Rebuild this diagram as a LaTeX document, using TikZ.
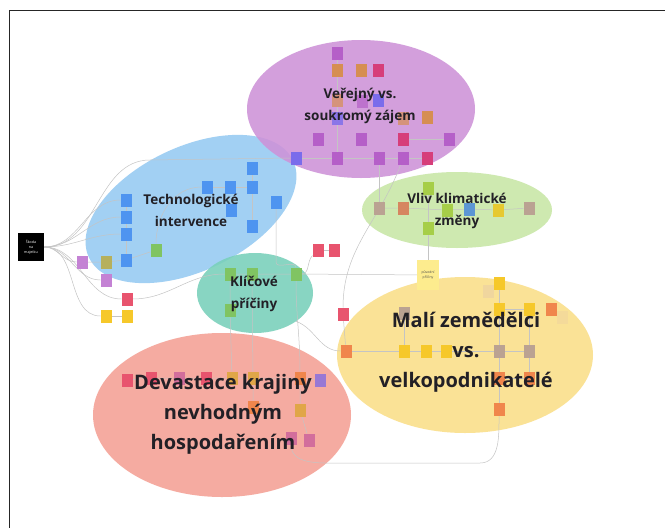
\documentclass[tikz,border=0pt]{standalone}
\usepackage{fontspec}
\setmainfont{Open Sans}
\usetikzlibrary{shapes.geometric}

% cluster fills
\definecolor{fillPub}{RGB}{206,146,216}
\definecolor{fillTech}{RGB}{150,202,242}
\definecolor{fillClim}{RGB}{200,230,166}
\definecolor{fillKey}{RGB}{120,208,186}
\definecolor{fillFarm}{RGB}{250,222,136}
\definecolor{fillDev}{RGB}{244,160,148}
% sticky-note colours
\definecolor{cPur}{RGB}{181,95,200}
\definecolor{cOrg}{RGB}{214,142,82}
\definecolor{cMag}{RGB}{214,62,122}
\definecolor{cVio}{RGB}{122,108,235}
\definecolor{cBlu}{RGB}{78,148,240}
\definecolor{cGrn}{RGB}{128,196,98}
\definecolor{cLime}{RGB}{166,206,72}
\definecolor{cOli}{RGB}{182,176,92}
\definecolor{cLav}{RGB}{196,130,212}
\definecolor{cRed}{RGB}{232,84,110}
\definecolor{cYel}{RGB}{246,200,42}
\definecolor{cTau}{RGB}{186,162,146}
\definecolor{cBrn}{RGB}{214,134,96}
\definecolor{cSky}{RGB}{92,150,212}
\definecolor{cOr2}{RGB}{240,134,76}
\definecolor{cTan}{RGB}{224,166,72}
\definecolor{cMau}{RGB}{210,110,156}
\definecolor{cPv}{RGB}{152,120,212}
\definecolor{cGhost}{RGB}{240,214,158}
\definecolor{cNote}{RGB}{253,236,142}
\definecolor{linkGray}{RGB}{196,196,196}
\definecolor{ink}{RGB}{34,32,38}

% drawing order: clusters, then connectors, then notes and titles
\pgfdeclarelayer{clusters}
\pgfdeclarelayer{links}
\pgfsetlayers{clusters,links,main}

\tikzset{
  cluster/.style={ellipse, draw=none, fill=#1, fill opacity=0.88, inner sep=0pt, outer sep=0pt},
  sq/.style={rectangle, fill=#1, draw=none, minimum width=11pt, minimum height=13pt, inner sep=0pt, outer sep=0pt},
  link/.style={draw=linkGray, line width=0.5pt},
  title/.style={font=\bfseries\fontsize{13.5}{22}\selectfont, text=ink, align=center, inner sep=0pt},
  bigtitle/.style={font=\bfseries\fontsize{20}{30}\selectfont, text=ink, align=center, inner sep=0pt}
}

\begin{document}
\begin{tikzpicture}[x=1pt,y=-1pt]
\useasboundingbox (0,0) rectangle (665,528);

\begin{pgfonlayer}{clusters}
\fill[white] (0,0) rectangle (665,528);
% page frame
\draw[line width=1.6pt, black!85] (9.5,528) -- (9.5,10.5) -- (665,10.5);
% cluster ellipses
\node[cluster=fillTech, minimum width=226pt, minimum height=124pt, rotate=25.5] (tech) at (191,209) {};
\node[cluster=fillPub, minimum width=228pt, minimum height=138pt] (pub) at (361,109) {};
\node[cluster=fillClim, minimum width=190pt, minimum height=76pt] (clim) at (457,210) {};
\node[cluster=fillKey, minimum width=116pt, minimum height=80pt] (key) at (255,293) {};
\node[cluster=fillFarm, minimum width=256pt, minimum height=156pt] (farm) at (465,355) {};
\node[cluster=fillDev, minimum width=258pt, minimum height=164pt] (dev) at (222,415) {};
\end{pgfonlayer}

% root card
\node[rectangle, fill=black, minimum width=26pt, minimum height=28pt, inner sep=0pt,
      text=white, align=center, font=\fontsize{3.6}{5.2}\selectfont] (root) at (31,247) {Škoda\\na\\majetku};

% sticky notes: public vs private interest
\node[sq=cPur] (pA1) at (337,53) {};
\node[sq=cOrg] (pB1) at (337,70) {};
\node[sq=cOrg] (pB2) at (361,70) {};
\node[sq=cMag] (pB3) at (378,70) {};
\node[sq=cOrg, opacity=0.7] (pC1) at (337,100) {};
\node[sq=cPur, opacity=0.7] (pC2) at (362,101) {};
\node[sq=cVio] (pC3) at (378,100) {};
\node[sq=cVio, opacity=0.8] (pD1) at (337,118) {};
\node[sq=cOrg, opacity=0.7] (pD2) at (403,118) {};
\node[sq=cOrg] (pD3) at (427,117) {};
\node[sq=cPur] (pE1) at (318,139) {};
\node[sq=cPur] (pE2) at (361,139) {};
\node[sq=cMag] (pE3) at (403,139) {};
\node[sq=cPur] (pE4) at (449,139) {};
\node[sq=cVio] (pF1) at (296,158) {};
\node[sq=cPur] (pF2) at (337,158) {};
\node[sq=cPur] (pF3) at (379,158) {};
\node[sq=cPur] (pF4) at (403,158) {};
\node[sq=cMag] (pF5) at (427,158) {};

% sticky notes: technological intervention
\node[sq=cBlu] (b1) at (252,168) {};
\node[sq=cBlu] (b2) at (207,187) {};
\node[sq=cBlu] (b3) at (230,187) {};
\node[sq=cBlu] (b4) at (252,187) {};
\node[sq=cBlu] (b9) at (276,202) {};
\node[sq=cBlu] (b10) at (231,210) {};
\node[sq=cBlu] (b11) at (252,226) {};
\node[sq=cBlu] (b5) at (126,200) {};
\node[sq=cBlu] (b6) at (126,217) {};
\node[sq=cBlu] (b7) at (126,234) {};
\node[sq=cBlu] (b8) at (126,260) {};
\node[sq=cGrn] (bG) at (156,250) {};

% loose notes near the root
\node[sq=cLav] (lP) at (82,262) {};
\node[sq=cOli] (lO) at (106,262) {};
\node[sq=cLav] (lP2) at (106,280) {};
\node[sq=cRed] (lR) at (127,299) {};
\node[sq=cYel] (lY1) at (106,316) {};
\node[sq=cYel] (lY2) at (127,316) {};

% sticky notes: key causes
\node[sq=cGrn] (kG1) at (230,274) {};
\node[sq=cGrn] (kG2) at (252,274) {};
\node[sq=cGrn] (kG3) at (296,274) {};
\node[sq=cGrn] (kG4) at (230,310) {};
\node[sq=cRed] (rR1) at (318,250) {};
\node[sq=cRed] (rR2) at (334,250) {};

% sticky notes: climate change
\node[sq=cLime] (gL0) at (428,188) {};
\node[sq=cTau] (gT1) at (379,208) {};
\node[sq=cBrn] (gB1) at (403,208) {};
\node[sq=cLime] (gL1) at (447,210) {};
\node[sq=cSky] (gS1) at (469,209) {};
\node[sq=cYel!80!cLime] (gY1) at (498,210) {};
\node[sq=cTau] (gT2) at (529,208) {};
\node[sq=cLime] (gL2) at (428,228) {};
\node[rectangle, fill=cNote, minimum width=22pt, minimum height=30pt, inner sep=0pt,
      text=black!70, align=center, font=\fontsize{3.4}{4.6}\selectfont] (orig) at (428,275) {původní\\příčiny};

% sticky notes: small farmers vs. large enterprises
\node[sq=cRed] (rY0) at (343,314) {};
\node[sq=cGhost] (yG1) at (488,291) {};
\node[sq=cYel] (yY1) at (499,283) {};
\node[sq=cTau] (yT1) at (404,313) {};
\node[sq=cYel] (yY2) at (499,309) {};
\node[sq=cYel] (yY3) at (529,309) {};
\node[sq=cGhost, opacity=0.6] (yG2) at (562,317) {};
\node[sq=cOr2] (yO1) at (551,309) {};
\node[sq=cOr2] (yO2) at (346,351) {};
\node[sq=cYel] (yY4) at (404,351) {};
\node[sq=cYel] (yY5) at (426,351) {};
\node[sq=cYel] (yY6) at (446,351) {};
\node[sq=cTau] (yT2) at (499,351) {};
\node[sq=cTau] (yT3) at (529,351) {};
\node[sq=cOr2] (yO3) at (499,378) {};
\node[sq=cOr2] (yO4) at (529,378) {};
\node[sq=cOr2] (yO5) at (499,409) {};

% sticky notes: land devastation
\node[sq=cRed] (dR1) at (127,380) {};
\node[sq=cRed] (dR2) at (151,378) {};
\node[sq=cMau] (dM1) at (179,378) {};
\node[sq=cRed] (dR3) at (206,378) {};
\node[sq=cTan] (dT1) at (232,378) {};
\node[sq=cTan] (dT2) at (253,378) {};
\node[sq=cOr2] (dO1) at (300,378) {};
\node[sq=cPv] (dV1) at (320,380) {};
\node[sq=cOr2] (dT3) at (253,407) {};
\node[sq=cTan] (dT4) at (300,410) {};
\node[sq=cMau] (dM2) at (291,438) {};
\node[sq=cMau] (dM3) at (309,440) {};

% connectors, kept beneath the notes
\begin{pgfonlayer}{links}
\foreach \t in {b5,b6,b7,lP,lP2,lR,lY1} \draw[link] (root.east) to[out=0,in=180] (\t.west);
\draw[link] (root.east) to[out=0,in=180] (150,160) -- (pF1.west);
\draw[link] (lP) -- (lO) -- (b8) -- (bG);
\draw[link] (lY1) -- (lY2);
\draw[link] (b5) -- (b6) -- (b7) -- (b8);
\draw[link] (b2) -- (b3) -- (b4);
\draw[link] (b1) -- (b4) -- (b11);
\draw[link] (b9) -- (276,262) to[out=-90,in=90] (kG3.north);
\draw[link] (bG) to[out=90,in=180] (b2.west);
\draw[link] (pA1) -- (pB1) -- (pC1) -- (pD1) -- (pF2);
\draw[link] (pF1) -- (pF2) -- (pF3) -- (pF4) -- (pF5);
\draw[link] (pE3) -- (pE4);
\draw[link] (pF3) -- (gT1);
\draw[link] (gT1) -- (gB1) -- (gL1) -- (gS1) -- (gY1) -- (gT2);
\draw[link] (gL0) -- (gL2) -- (orig);
\draw[link] (kG1) -- (kG2) -- (kG3) -- (orig);
\draw[link] (rR1) -- (rR2);
\draw[link] (rR1) to[out=-135,in=0] (kG3.east);
\draw[link] (pF4) to[out=-110,in=90] (rY0.north);
\draw[link] (rY0) -- (yO2);
\draw[link] (yO2) -- (yY4) -- (yY5) -- (yY6) -- (yT2) -- (yT3);
\draw[link] (yT1) -- (yY4);
\draw[link] (yY1) -- (yY2) -- (yT2) -- (yO3) -- (yO5);
\draw[link] (yY2) -- (yY3) -- (yT3) -- (yO4);
\draw[link] (yO3) -- (yO4);
\draw[link] (kG1) -- (kG4) -- (dT1);
\draw[link] (kG2) -- (dT2) -- (dT3);
\draw[link] (dR1) -- (dR2) -- (dM1) -- (dR3) -- (dT1) -- (dT2) -- (dO1) -- (dV1);
\draw[link] (dO1) -- (dT4) -- (dM3);
\draw[link] (kG3) to[out=-90,in=90] (dO1.north);
\draw[link] (dM2) to[out=-90,in=180] (340,463) -- (480,463) to[out=0,in=-90] (yO5.south);
\draw[link] (key.south east) to[out=-20,in=180] (yO2.west);
\draw[link] (lR) to[out=0,in=180] (kG1.west);
\end{pgfonlayer}

% cluster titles
\node[title] (tPub) at (360,106) {Veřejný vs.\\soukromý zájem};
\node[title] (tTech) at (191,210) {Technologické\\intervence};
\node[title] (tClim) at (457,211) {Vliv klimatické\\změny};
\node[title] (tKey) at (254,294) {Klíčové\\příčiny};
\node[bigtitle] (tFarm) at (466,352) {Malí zemědělci\\vs.\\velkopodnikatelé};
\node[bigtitle] (tDev) at (223,414) {Devastace krajiny\\nevhodným\\hospodařením};
\end{tikzpicture}
\end{document}
